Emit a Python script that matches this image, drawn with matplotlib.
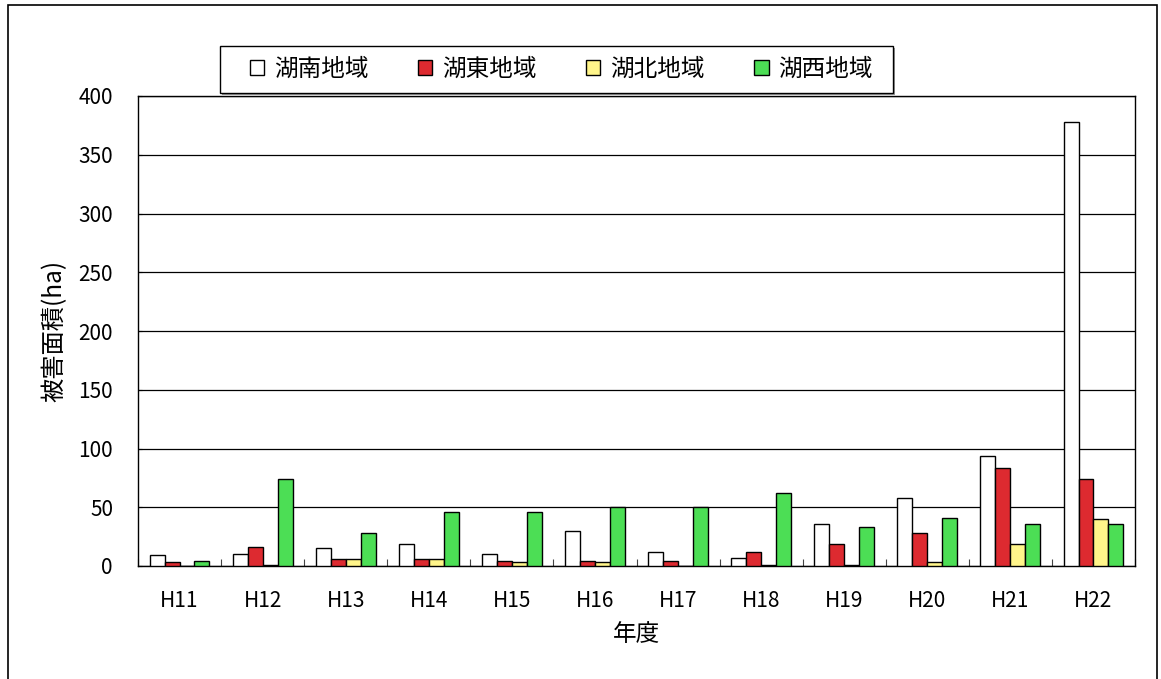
import numpy as np
import matplotlib
matplotlib.use('Agg')
import matplotlib.pyplot as plt
from matplotlib.patches import Rectangle
from matplotlib.ticker import FixedLocator

plt.rcParams['font.family'] = ['Noto Sans CJK JP', 'DejaVu Sans']

# 年度
years = ['H11', 'H12', 'H13', 'H14', 'H15', 'H16', 'H17', 'H18', 'H19', 'H20', 'H21', 'H22']
# 地域別の被害面積(ha)
konan = [9, 10, 15, 19, 10, 30, 12, 7, 36, 58, 94, 378]
koto = [3, 16, 6, 6, 4.5, 4.5, 4.5, 12, 19, 28, 83, 74]
kohoku = [0, 1, 6, 6, 3, 3, 0, 1, 1, 3, 19, 40]
kosei = [4, 74, 28, 46, 46, 50, 50, 62, 33, 41, 36, 36]

regions = ['湖南地域', '湖東地域', '湖北地域', '湖西地域']
colors = ['#ffffff', '#dd2a30', '#fff58a', '#4cde55']

W, H = 1161, 679
fig = plt.figure(figsize=(W / 100, H / 100), dpi=100)
ax = fig.add_axes([138 / W, 1 - 566 / H, (1135 - 138) / W, (566 - 96) / H])

x = np.arange(len(years))
bw = 0.18
for i, (vals, col, name) in enumerate(zip([konan, koto, kohoku, kosei], colors, regions)):
    ax.bar(x + (i - 1.5) * bw, vals, bw, color=col, edgecolor='black',
           linewidth=1.0, label=name, zorder=3)

ax.set_xlim(-0.5, len(years) - 0.5)
ax.set_ylim(0, 400)
ax.set_yticks(np.arange(0, 401, 50))
ax.yaxis.grid(True, color='black', linewidth=0.9, zorder=0)
ax.set_axisbelow(True)

ax.set_xticks(x)
ax.set_xticklabels(years)
ax.xaxis.set_minor_locator(FixedLocator(np.arange(-0.5, len(years), 1)))
ax.tick_params(axis='x', which='major', length=0, pad=17, labelsize=15)
ax.tick_params(axis='x', which='minor', direction='in', length=5, width=0.8, color='#444444')
ax.tick_params(axis='y', direction='in', length=3, width=0.8, pad=18, labelsize=15)

for s in ax.spines.values():
    s.set_linewidth(1.0)
    s.set_color('black')

ax.set_ylabel('被害面積(ha)', fontsize=17.5, labelpad=8)
ax.set_xlabel('年度', fontsize=17, labelpad=8)

# 凡例（枠は別に描く）
leg = ax.legend(ncol=4, loc='center', bbox_to_anchor=(561.5 / W, 1 - 69.5 / H),
                bbox_transform=fig.transFigure, fontsize=17, frameon=False,
                handlelength=0.6, handleheight=0.6, handletextpad=0.42,
                columnspacing=2.1, borderpad=0, borderaxespad=0)

# 凡例の枠と影（軸より下に描く）
fig.patches.append(Rectangle((222 / W, 1 - 95 / H), (895 - 222) / W, 47 / H,
                             transform=fig.transFigure, facecolor='#999999',
                             edgecolor='none', zorder=-2))
fig.patches.append(Rectangle((220 / W, 1 - 93 / H), (893 - 220) / W, 47 / H,
                             transform=fig.transFigure, facecolor='white',
                             edgecolor='black', linewidth=1.0, zorder=-1))

# 外枠
fig.patches.append(Rectangle((8 / W, -0.05), (1157 - 8) / W, 1.05 - 5 / H,
                             transform=fig.transFigure, fill=False,
                             edgecolor='black', linewidth=1.2, zorder=-1))

fig.savefig('out.png', dpi=100)
